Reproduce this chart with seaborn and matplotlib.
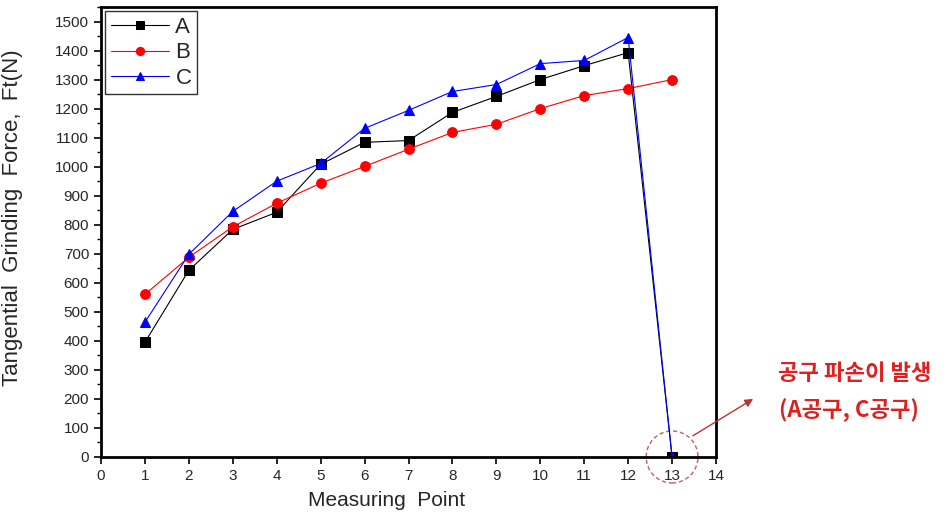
import matplotlib
matplotlib.use("Agg")
import matplotlib.pyplot as plt
from matplotlib.patches import Ellipse
from matplotlib.ticker import MultipleLocator
import seaborn as sns
import pandas as pd

points = list(range(1, 14))
series_a = [395, 643, 784, 843, 1008, 1084, 1090, 1187, 1242, 1300, 1348, 1393, 0]
series_b = [560, 688, 793, 874, 943, 1001, 1060, 1118, 1146, 1200, 1245, 1269, 1300]
series_c = [464, 698, 846, 950, 1011, 1132, 1194, 1259, 1283, 1355, 1366, 1445, 0]
names = ["A", "B", "C"]
colors = {"A": "#000000", "B": "#ff0000", "C": "#0000ff"}
markers = {"A": "s", "B": "o", "C": "^"}

df = pd.DataFrame({
    "Measuring Point": points * 3,
    "Force": series_a + series_b + series_c,
    "Series": ["A"] * 13 + ["B"] * 13 + ["C"] * 13,
})

sns.set_style("white")
plt.rcParams["font.family"] = ["Liberation Sans", "DejaVu Sans"]

fig = plt.figure(figsize=(9.5, 5.24), dpi=100)
ax = fig.add_axes([0.1063, 0.1279, 0.6474, 0.8587])

sns.lineplot(data=df, x="Measuring Point", y="Force", hue="Series", style="Series",
             palette=colors, markers=markers, dashes=False, linewidth=0.8,
             markersize=7, ax=ax, legend=True)
for line in ax.lines:
    line.set_markeredgecolor(line.get_color())

ax.set_xlim(0, 14)
ax.set_ylim(0, 1550)
ax.xaxis.set_major_locator(MultipleLocator(1))
ax.yaxis.set_major_locator(MultipleLocator(100))
ax.yaxis.set_minor_locator(MultipleLocator(50))
ax.tick_params(axis="both", which="major", direction="out", length=5, width=1.2,
               labelsize=11, bottom=True, left=True, top=False, right=False, color="black")
ax.tick_params(axis="y", which="minor", direction="out", length=3, width=1, left=True, color="black")
for s in ax.spines.values():
    s.set_color("black")
    s.set_linewidth(2)

lab_font = ["Liberation Sans", "DejaVu Sans"]
ax.set_xlabel("Measuring  Point", fontsize=15, family=lab_font)
ax.xaxis.set_label_coords(0.465, -0.075)
ax.set_ylabel("Tangential  Grinding  Force,  Ft(N)", fontsize=16, family=lab_font)
ax.yaxis.set_label_coords(-0.127, 0.531)

leg = ax.legend(loc="upper left", frameon=True, fancybox=False, fontsize=16,
                borderaxespad=0.2, handlelength=2.6, handletextpad=0.3,
                borderpad=0.25, labelspacing=0.2, markerscale=0.85)
leg.get_frame().set_edgecolor("black")
leg.get_frame().set_linewidth(1.0)

circ = Ellipse((13, 0), width=1.18, height=179, transform=ax.transData, fill=False,
               edgecolor="#c06060", linestyle=(0, (3, 2)), linewidth=1.0, clip_on=False)
ax.add_patch(circ)
ax.annotate("", xy=(14.9, 205), xytext=(13.42, 68), xycoords="data",
            arrowprops=dict(arrowstyle="-|>", color="#c03030", lw=1.0, mutation_scale=12),
            annotation_clip=False)

kfont = ["Noto Sans CJK KR", "DejaVu Sans"]
fig.text(855 / 950, 1 - 373 / 524, "공구 파손이 발생", color="#e02020", fontsize=16,
         fontweight="bold", family=kfont, ha="center", va="center")
fig.text(849 / 950, 1 - 410 / 524, "(A공구, C공구)", color="#e02020", fontsize=16,
         fontweight="bold", family=kfont, ha="center", va="center")

fig.savefig("out.png", dpi=100, facecolor="white")
